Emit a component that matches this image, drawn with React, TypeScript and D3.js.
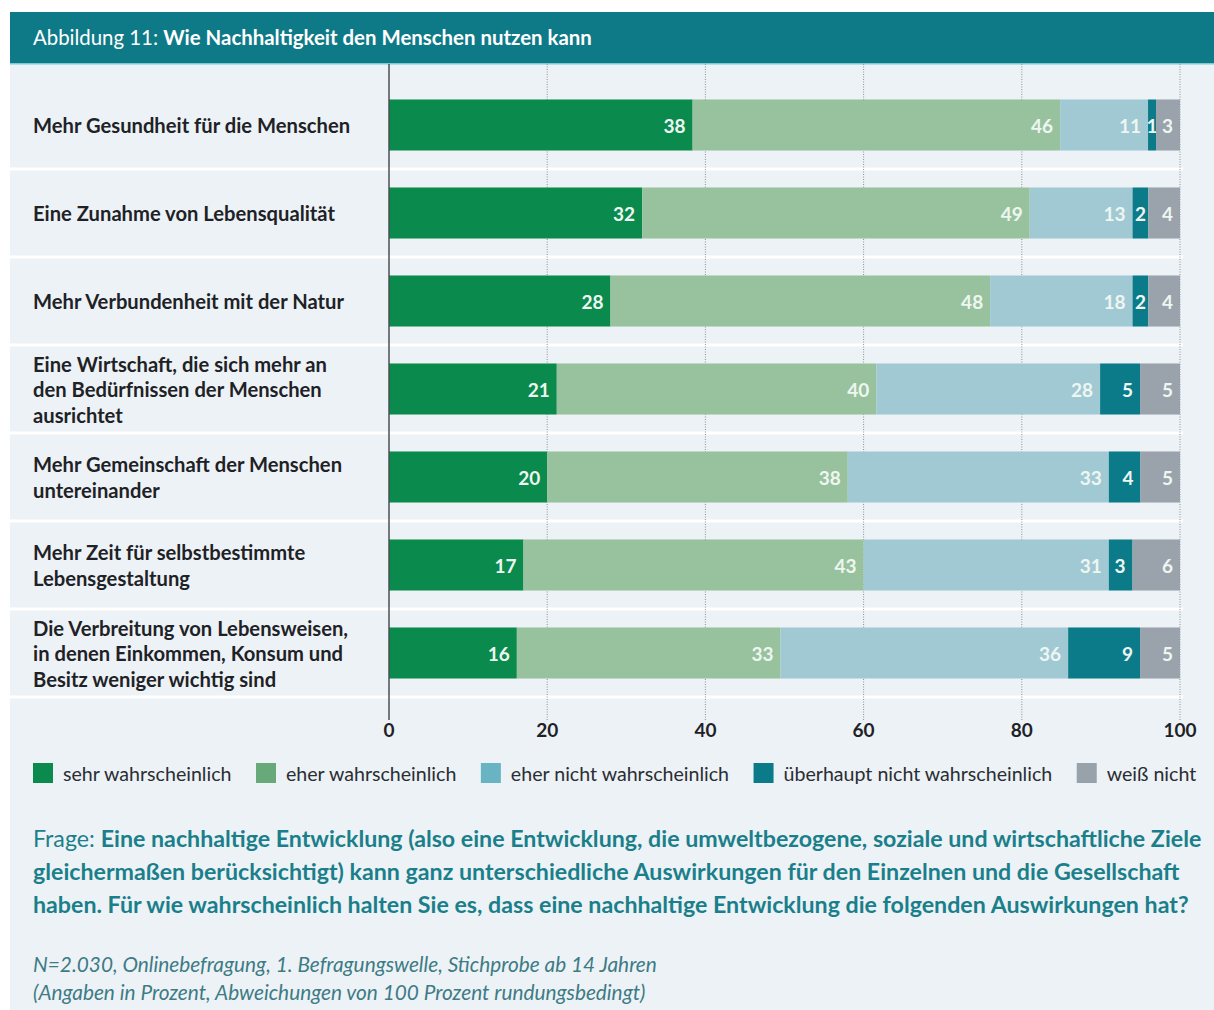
import React, { useEffect, useRef } from 'react';
import * as d3 from 'd3';

// chart data
const categories = [
  'Mehr Gesundheit für die Menschen',
  'Eine Zunahme von Lebensqualität',
  'Mehr Verbundenheit mit der Natur',
  'Eine Wirtschaft, die sich mehr an|den Bedürfnissen der Menschen|ausrichtet',
  'Mehr Gemeinschaft der Menschen|untereinander',
  'Mehr Zeit für selbstbestimmte|Lebensgestaltung',
  'Die Verbreitung von Lebensweisen,|in denen Einkommen, Konsum und|Besitz weniger wichtig sind',
];
const seriesNames = [
  'sehr wahrscheinlich',
  'eher wahrscheinlich',
  'eher nicht wahrscheinlich',
  'überhaupt nicht wahrscheinlich',
  'weiß nicht',
];
const sehr = [38, 32, 28, 21, 20, 17, 16];
const eher = [46, 49, 48, 40, 38, 43, 33];
const eherNicht = [11, 13, 18, 28, 33, 31, 36];
const ueberhauptNicht = [1, 2, 2, 5, 4, 3, 9];
const weissNicht = [3, 4, 4, 5, 5, 6, 5];
const ticks = [0, 20, 40, 60, 80, 100];

const barColors = ['#0a8a4c', '#98c29d', '#a1c9d4', '#0b7b89', '#9aa3ab'];
const legendColors = ['#0a8a4c', '#68a97a', '#68b4c3', '#0b7b89', '#98a2aa'];

const title = 'Wie Nachhaltigkeit den Menschen nutzen kann';
const questionLines = [
  ['Frage: ', 'Eine nachhaltige Entwicklung (also eine Entwicklung, die umweltbezogene, soziale und wirtschaftliche Ziele'],
  ['', 'gleichermaßen berücksichtigt) kann ganz unterschiedliche Auswirkungen für den Einzelnen und die Gesellschaft'],
  ['', 'haben. Für wie wahrscheinlich halten Sie es, dass eine nachhaltige Entwicklung die folgenden Auswirkungen hat?'],
];
const notes = [
  'N=2.030, Onlinebefragung, 1. Befragungswelle, Stichprobe ab 14 Jahren',
  '(Angaben in Prozent, Abweichungen von 100 Prozent rundungsbedingt)',
];

const W = 1214;
const H = 1010;
const FONT = 'Lato, "Noto Sans", sans-serif';
const teal = '#0f7a87';

function App() {
  const svgRef = useRef<SVGSVGElement>(null);

  useEffect(() => {
    const svg = d3.select(svgRef.current);
    svg.selectAll('*').remove();
    svg.style('font-family', FONT);

    // background and header band
    svg.append('rect').attr('x', 10).attr('y', 64).attr('width', W - 10).attr('height', H - 64).attr('fill', '#edf2f6');
    svg.append('rect').attr('x', 10).attr('y', 12).attr('width', W - 10).attr('height', 52).attr('fill', teal);
    svg.append('rect').attr('x', 10).attr('y', 63).attr('width', W - 10).attr('height', 1.5).attr('fill', '#7fcbd3');
    const head = svg.append('text').attr('x', 33).attr('y', 37).attr('dominant-baseline', 'central')
      .attr('fill', '#fff').style('font-size', '20.4px');
    head.append('tspan').text('Abbildung 11: ');
    head.append('tspan').style('font-weight', 'bold').text(title);

    const rows = categories.map((c, i) => ({
      cat: c,
      s0: sehr[i], s1: eher[i], s2: eherNicht[i], s3: ueberhauptNicht[i], s4: weissNicht[i],
    }));
    const keys = ['s0', 's1', 's2', 's3', 's4'];

    const x = d3.scaleLinear().domain([0, 100]).range([389, 1180]);
    const y = d3.scaleBand().domain(categories).range([81, 697]).paddingInner(0.42).paddingOuter(0.21);

    const plotTop = 64;
    const plotBottom = 720;

    // white row separators
    const gap = y.step() - y.bandwidth();
    svg.append('g').selectAll('rect').data(categories).enter().append('rect')
      .attr('x', 10).attr('width', x(100) - 10 + 3)
      .attr('y', d => (y(d) as number) + y.bandwidth() + gap / 2 - 1.5)
      .attr('height', 3).attr('fill', '#fff');

    // gridlines
    svg.append('g').selectAll('line').data(ticks.filter(t => t > 0)).enter().append('line')
      .attr('x1', d => x(d)).attr('x2', d => x(d))
      .attr('y1', plotTop).attr('y2', plotBottom)
      .attr('stroke', '#8d9296').attr('stroke-width', 1).attr('stroke-dasharray', '1,1.5');

    // stacked bars (normalised so rounding leaves no gap)
    const stack = d3.stack<any>().keys(keys).offset(d3.stackOffsetExpand);
    const layers = stack(rows);
    const g = svg.append('g');
    layers.forEach((layer, li) => {
      const lg = g.append('g');
      lg.selectAll('rect').data(layer).enter().append('rect')
        .attr('x', d => x(d[0] * 100))
        .attr('width', d => x(d[1] * 100) - x(d[0] * 100))
        .attr('y', d => y(d.data.cat) as number)
        .attr('height', y.bandwidth())
        .attr('fill', barColors[li]);
      lg.selectAll('text').data(layer).enter().append('text')
        .each(function (d) {
          const x0 = x(d[0] * 100);
          const x1 = x(d[1] * 100);
          const narrow = x1 - x0 < 20;
          d3.select(this)
            .attr('x', narrow ? (x0 + x1) / 2 : x1 - 7)
            .attr('text-anchor', narrow ? 'middle' : 'end');
        })
        .attr('y', d => (y(d.data.cat) as number) + y.bandwidth() / 2)
        .attr('dominant-baseline', 'central')
        .attr('fill', '#eef6f1')
        .style('font-size', '19px').style('font-weight', 'bold')
        .text(d => d.data[keys[li]]);
    });

    // zero line
    svg.append('line').attr('x1', x(0)).attr('x2', x(0)).attr('y1', plotTop).attr('y2', plotBottom)
      .attr('stroke', '#4a4f54').attr('stroke-width', 1.5);

    // tick labels
    svg.append('g').selectAll('text').data(ticks).enter().append('text')
      .attr('x', d => x(d)).attr('y', 729).attr('text-anchor', 'middle').attr('dominant-baseline', 'central')
      .attr('fill', '#1e2226').style('font-size', '19px').style('font-weight', 'bold')
      .text(d => d);

    // category labels
    const lab = svg.append('g').selectAll('text').data(categories).enter().append('text')
      .attr('fill', '#1e2226').style('font-size', '20.2px').style('font-weight', 'bold');
    lab.each(function (d) {
      const lines = d.split('|');
      const cy = (y(d) as number) + y.bandwidth() / 2;
      const lh = 25.5;
      lines.forEach((ln, k) => {
        d3.select(this).append('tspan')
          .attr('x', 33)
          .attr('y', cy + (k - (lines.length - 1) / 2) * lh)
          .attr('dominant-baseline', 'central')
          .text(ln);
      });
    });

    // legend
    const leg = svg.append('g');
    let lx = 33;
    seriesNames.forEach((name, i) => {
      leg.append('rect').attr('x', lx).attr('y', 763).attr('width', 20).attr('height', 20).attr('fill', legendColors[i]);
      const t = leg.append('text').attr('x', lx + 30).attr('y', 773).attr('dominant-baseline', 'central')
        .attr('fill', '#2a2e33').style('font-size', '19.6px').text(name);
      const w = (t.node() as SVGTextElement).getComputedTextLength();
      lx = lx + 30 + w + 24.5;
    });

    // question
    questionLines.forEach((ln, i) => {
      const t = svg.append('text').attr('x', 33).attr('y', 838 + i * 33).attr('dominant-baseline', 'central')
        .attr('fill', '#1a7f8b').style('font-size', '23.2px');
      if (ln[0]) t.append('tspan').text(ln[0]);
      t.append('tspan').style('font-weight', 'bold').text(ln[1]);
    });

    // notes
    notes.forEach((n, i) => {
      svg.append('text').attr('x', 33).attr('y', 963 + i * 28).attr('dominant-baseline', 'central')
        .attr('fill', '#3d7b85').style('font-size', '20.8px').style('font-style', 'italic').text(n);
    });
  }, []);

  return (
    <svg ref={svgRef} width={W} height={H} style={{ position: 'absolute', left: 0, top: 0 }} />
  );
}

export default App;
